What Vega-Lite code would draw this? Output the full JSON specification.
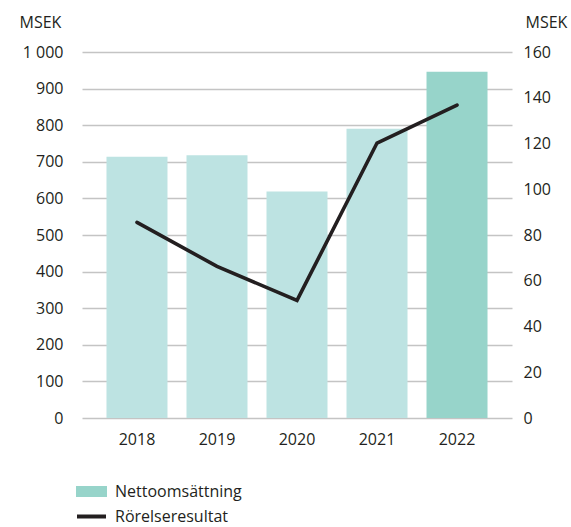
{
  "$schema": "https://vega.github.io/schema/vega-lite/v6.json",
  "width": 430,
  "height": 366,
  "autosize": {"type": "none"},
  "padding": {"left": 82, "top": 52, "right": 59, "bottom": 109},
  "background": "white",
  "config": {
    "view": {"stroke": null},
    "font": "Open Sans",
    "axis": {
      "labelFont": "Open Sans",
      "labelFontSize": 16,
      "labelColor": "#231f20",
      "titleFont": "Open Sans",
      "titleFontSize": 16,
      "titleFontWeight": "normal",
      "titleColor": "#231f20",
      "domain": false,
      "ticks": false,
      "labelOverlap": false
    },
    "legend": {
      "labelFont": "Open Sans",
      "labelFontSize": 16,
      "labelColor": "#231f20"
    }
  },
  "data": {
    "values": [
      {"year": "2018", "netto": 714, "rorelse": 85.5},
      {"year": "2019", "netto": 718, "rorelse": 66.3},
      {"year": "2020", "netto": 619, "rorelse": 51.4},
      {"year": "2021", "netto": 790, "rorelse": 120.2},
      {"year": "2022", "netto": 946, "rorelse": 136.8}
    ]
  },
  "encoding": {
    "x": {
      "field": "year",
      "type": "ordinal",
      "scale": {"paddingInner": 0.2375, "paddingOuter": 0.306},
      "axis": {"title": null, "labelAngle": 0, "labelPadding": 13, "grid": false}
    }
  },
  "layer": [
    {
      "encoding": {
        "y": {
          "field": "netto",
          "type": "quantitative",
          "scale": {"domain": [0, 1000], "nice": false},
          "axis": {
            "orient": "left",
            "title": "MSEK",
            "titleAngle": 0,
            "titleAlign": "left",
            "titleBaseline": "alphabetic",
            "titleX": -63,
            "titleY": -25,
            "values": [0, 100, 200, 300, 400, 500, 600, 700, 800, 900, 1000],
            "tickCount": 11,
            "labelExpr": "replace(format(datum.value, ','), ',', ' ')",
            "labelPadding": 19,
            "grid": true,
            "gridColor": "#c4c4c4",
            "gridWidth": 1.3,
            "gridOpacity": 1
          }
        }
      },
      "layer": [
        {
          "transform": [{"filter": "datum.year !== '2022'"}],
          "mark": {"type": "bar", "color": "#bde3e2"}
        },
        {
          "transform": [{"filter": "datum.year === '2022'"}],
          "mark": {"type": "bar"},
          "encoding": {
            "fill": {
              "datum": "Nettoomsättning",
              "scale": {"range": ["#97d4ca"]},
              "legend": {
                "title": null,
                "orient": "none",
                "legendX": -6,
                "legendY": 424,
                "symbolType": "M-1,-0.355H1V0.355H-1Z",
                "symbolSize": 961,
                "symbolStrokeWidth": 0,
                "labelOffset": 8
              }
            }
          }
        }
      ]
    },
    {
      "mark": {"type": "line", "color": "#231f20", "strokeWidth": 3.6, "strokeCap": "round"},
      "encoding": {
        "y": {
          "field": "rorelse",
          "type": "quantitative",
          "scale": {"domain": [0, 160], "nice": false},
          "axis": {
            "orient": "right",
            "title": "MSEK",
            "titleAngle": 0,
            "titleAlign": "left",
            "titleBaseline": "alphabetic",
            "titleX": 13,
            "titleY": -25,
            "values": [0, 20, 40, 60, 80, 100, 120, 140, 160],
            "tickCount": 9,
            "labelPadding": 11,
            "grid": false
          }
        },
        "stroke": {
          "datum": "Rörelseresultat",
          "scale": {"range": ["#231f20"]},
          "legend": {
            "title": null,
            "orient": "none",
            "legendX": -7,
            "legendY": 448,
            "symbolType": "stroke",
            "symbolSize": 841,
            "symbolStrokeWidth": 4,
            "labelOffset": 7
          }
        }
      }
    }
  ],
  "resolve": {"scale": {"y": "independent"}}
}
